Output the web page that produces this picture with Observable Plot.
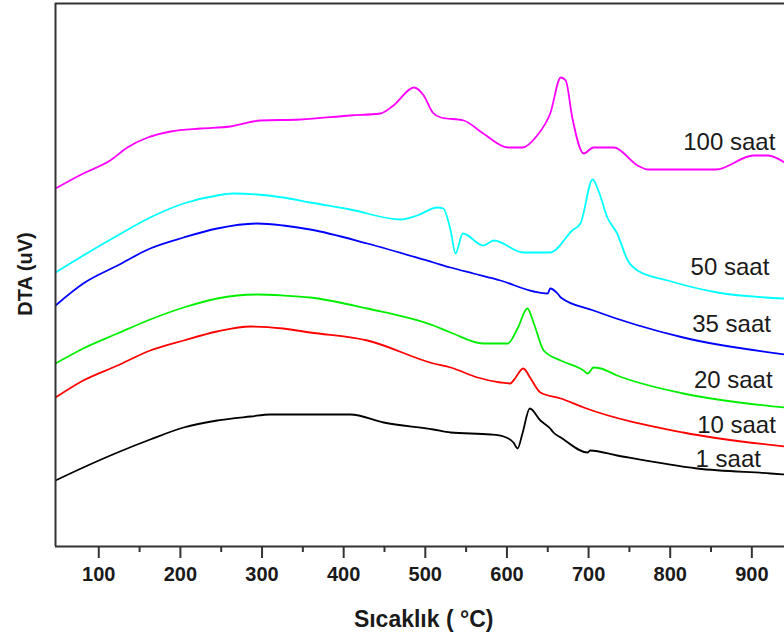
<!DOCTYPE html>
<html>
<head>
<meta charset="utf-8">
<script src="https://cdn.jsdelivr.net/npm/d3@7"></script>
<script src="https://cdn.jsdelivr.net/npm/@observablehq/plot@0.6"></script>
<style>
  html, body { margin: 0; padding: 0; background: #fff; overflow: hidden; }
  svg { display: block; font-family: "Liberation Sans", Arial, sans-serif; }
</style>
</head>
<body>
<div id="chart"></div>
<script>
// Temperature (°C) / DTA signal (arbitrary µV units) pairs
const saat1 = [[47,66],[81,79],[123,94],[163,107],[204,119],[245,126],[286,130],[310,132],[359,132],[408,132],[449,124],[510,117],[531,114],[580,112],[596,110],[608,104],[613,98],[619,113],[628,138],[641,126],[653,118],[657,114],[666,109],[699,94],[702,96],[735,91],[833,78],[923,73],[940,72]];
const saat10 = [[47,149],[81,166],[123,181],[163,196],[204,206],[245,215],[286,220],[326,218],[359,214],[429,206],[510,183],[531,179],[564,169],[592,164],[604,163],[608,166],[620,178],[629,168],[641,154],[666,148],[694,139],[816,114],[940,100]];
const saat20 = [[47,183],[81,198],[123,213],[163,227],[204,239],[245,248],[294,252],[326,251],[359,249],[429,238],[510,221],[531,214],[571,203],[601,203],[613,218],[625,238],[633,223],[645,196],[666,186],[694,176],[699,173],[706,179],[715,178],[735,171],[816,153],[940,139]];
const saat35 = [[47,241],[81,263],[123,281],[163,298],[204,309],[245,318],[294,323],[326,321],[359,317],[429,303],[510,284],[531,279],[559,273],[592,266],[633,255],[650,253],[653,258],[662,253],[666,249],[706,236],[816,209],[940,192]];
const saat50 = [[47,274],[81,291],[123,311],[163,329],[204,343],[245,351],[265,353],[326,349],[359,344],[408,337],[470,327],[490,331],[515,339],[522,338],[531,316],[537,293],[546,313],[571,301],[584,306],[620,294],[653,294],[680,316],[690,323],[705,367],[712,356],[723,329],[735,313],[748,286],[760,276],[797,266],[858,254],[940,248]];
const saat100 = [[47,358],[81,373],[114,386],[135,399],[160,409],[188,415],[225,418],[261,420],[298,426],[347,427],[408,431],[445,433],[461,441],[486,459],[498,451],[509,434],[519,429],[547,426],[571,413],[601,399],[619,399],[637,411],[653,433],[666,469],[672,466],[680,429],[694,393],[706,399],[731,399],[760,381],[773,377],[856,377],[902,391],[920,391],[940,384]];

const seriesNames = ["1 saat", "10 saat", "20 saat", "35 saat", "50 saat", "100 saat"];
const seriesData = [saat1, saat10, saat20, saat35, saat50, saat100];
const seriesColors = ["#000000", "#ff0000", "#00ee00", "#0000ff", "#00ffff", "#ff00ff"];
// label anchor (temperature, signal) for each series name
const labelX = [831, 833, 829, 827, 825, 816];
const labelY = [87, 121, 166, 222, 279, 404];

const majorTicks = [100, 200, 300, 400, 500, 600, 700, 800, 900];
const minorTicks = [150, 250, 350, 450, 550, 650, 750, 850];

const rows = seriesData.flatMap((s, i) => s.map(([t, v]) => ({series: seriesNames[i], t, v})));
const labels = seriesNames.map((n, i) => ({name: n, t: labelX[i], v: labelY[i]}));

const chart = Plot.plot({
  width: 784,
  height: 642,
  marginLeft: 55,
  marginRight: 0,
  marginTop: 3,
  marginBottom: 96,
  x: {domain: [47, 940]},
  y: {domain: [0, 543], axis: null},
  color: {domain: seriesNames, range: seriesColors},
  marks: [
    Plot.lineY(rows, {x: "t", y: "v", z: "series", stroke: "series", strokeWidth: 1.8, curve: "monotone-x", clip: true}),
    Plot.text(labels, {x: "t", y: "v", text: "name", textAnchor: "start", fontSize: 24, fill: "#1a1a1a", lineAnchor: "middle"}),
    Plot.axisX({ticks: minorTicks, tickSize: 6, text: null, label: null, strokeWidth: 2, stroke: "#333"}),
    Plot.axisX({ticks: majorTicks, tickSize: 12, tickPadding: 8, tickFormat: d => String(d), fontSize: 20, fontWeight: "bold", fill: "#1a1a1a", stroke: "#333", strokeWidth: 2, label: null}),
    Plot.ruleX([47], {stroke: "#333", strokeWidth: 2}),
    Plot.ruleY([0, 543], {stroke: "#333", strokeWidth: 2}),
    Plot.text(["Sıcaklık ( °C)"], {frameAnchor: "bottom", x: 498, dy: 73, fontSize: 23, fontWeight: "bold", fill: "#1a1a1a", lineAnchor: "middle"})
  ]
});
d3.select(chart).append("text")
  .attr("transform", "translate(25,274) rotate(-90)")
  .attr("text-anchor", "middle")
  .attr("dy", "0.35em")
  .attr("font-size", 20)
  .attr("font-weight", "bold")
  .attr("fill", "#1a1a1a")
  .text("DTA (uV)");
document.getElementById("chart").appendChild(chart);
</script>
</body>
</html>
